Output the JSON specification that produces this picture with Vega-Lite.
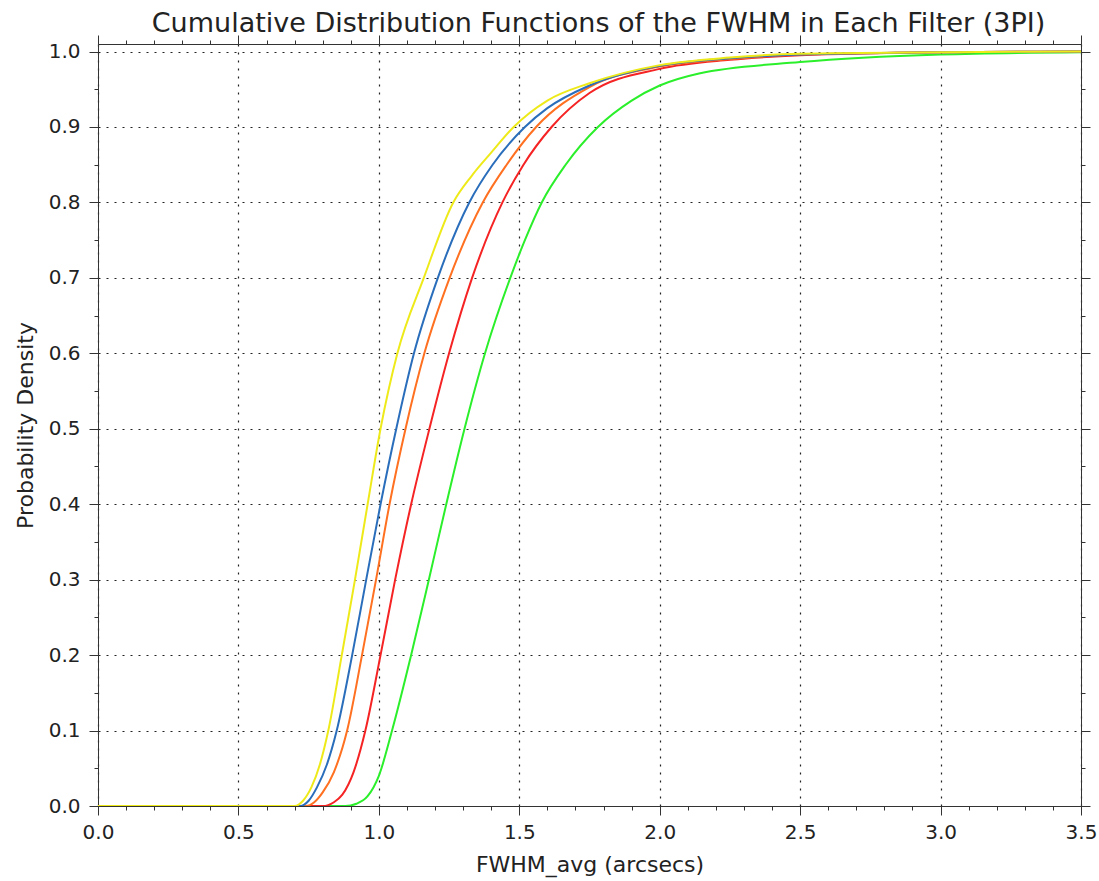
{
  "$schema": "https://vega.github.io/schema/vega-lite/v6.json",
  "width": 983,
  "height": 762,
  "autosize": "none",
  "padding": {"left": 98, "top": 44, "right": 18, "bottom": 75},
  "background": "white",
  "config": {
    "font": "DejaVu Sans",
    "view": {"stroke": null},
    "axis": {"labelFont": "DejaVu Sans", "titleFont": "DejaVu Sans", "labelColor": "#222", "titleColor": "#222", "domainColor": "#333", "tickColor": "#333", "titleFontWeight": "normal"}
  },
  "title": {"text": "Cumulative Distribution Functions of the FWHM in Each Filter (3PI)", "fontSize": 27, "font": "DejaVu Sans", "fontWeight": "normal", "color": "#222", "anchor": "middle", "offset": -3, "dx": 9},
  "data": {"values": [
    {"band":"g","x":0,"p":0},{"band":"g","x":0.88,"p":0},{"band":"g","x":0.92,"p":0.003},{"band":"g","x":0.96,"p":0.013},{"band":"g","x":1.0,"p":0.04},{"band":"g","x":1.047,"p":0.1},{"band":"g","x":1.115,"p":0.2},{"band":"g","x":1.178,"p":0.3},{"band":"g","x":1.24,"p":0.4},{"band":"g","x":1.305,"p":0.5},{"band":"g","x":1.378,"p":0.6},{"band":"g","x":1.468,"p":0.7},{"band":"g","x":1.52,"p":0.75},{"band":"g","x":1.58,"p":0.8},{"band":"g","x":1.665,"p":0.85},{"band":"g","x":1.78,"p":0.9},{"band":"g","x":1.9,"p":0.935},{"band":"g","x":2.0,"p":0.955},{"band":"g","x":2.14,"p":0.971},{"band":"g","x":2.5,"p":0.986},{"band":"g","x":3.0,"p":0.996},{"band":"g","x":3.5,"p":0.999},
    {"band":"r","x":0,"p":0},{"band":"r","x":0.80,"p":0},{"band":"r","x":0.84,"p":0.005},{"band":"r","x":0.87,"p":0.015},{"band":"r","x":0.91,"p":0.045},{"band":"r","x":0.952,"p":0.1},{"band":"r","x":1.006,"p":0.2},{"band":"r","x":1.058,"p":0.3},{"band":"r","x":1.115,"p":0.4},{"band":"r","x":1.18,"p":0.5},{"band":"r","x":1.25,"p":0.6},{"band":"r","x":1.332,"p":0.7},{"band":"r","x":1.44,"p":0.8},{"band":"r","x":1.515,"p":0.85},{"band":"r","x":1.615,"p":0.9},{"band":"r","x":1.75,"p":0.945},{"band":"r","x":2.0,"p":0.977},{"band":"r","x":2.25,"p":0.989},{"band":"r","x":2.5,"p":0.995},{"band":"r","x":3.0,"p":0.999},{"band":"r","x":3.5,"p":1.0},
    {"band":"i","x":0,"p":0},{"band":"i","x":0.74,"p":0},{"band":"i","x":0.77,"p":0.005},{"band":"i","x":0.80,"p":0.018},{"band":"i","x":0.84,"p":0.045},{"band":"i","x":0.887,"p":0.1},{"band":"i","x":0.94,"p":0.2},{"band":"i","x":0.99,"p":0.3},{"band":"i","x":1.038,"p":0.4},{"band":"i","x":1.095,"p":0.5},{"band":"i","x":1.162,"p":0.6},{"band":"i","x":1.252,"p":0.7},{"band":"i","x":1.37,"p":0.8},{"band":"i","x":1.455,"p":0.85},{"band":"i","x":1.56,"p":0.9},{"band":"i","x":1.75,"p":0.953},{"band":"i","x":2.0,"p":0.98},{"band":"i","x":2.25,"p":0.99},{"band":"i","x":2.5,"p":0.996},{"band":"i","x":3.0,"p":0.999},{"band":"i","x":3.5,"p":1.0},
    {"band":"z","x":0,"p":0},{"band":"z","x":0.72,"p":0},{"band":"z","x":0.75,"p":0.007},{"band":"z","x":0.78,"p":0.025},{"band":"z","x":0.815,"p":0.055},{"band":"z","x":0.85,"p":0.1},{"band":"z","x":0.905,"p":0.2},{"band":"z","x":0.955,"p":0.3},{"band":"z","x":1.006,"p":0.4},{"band":"z","x":1.062,"p":0.5},{"band":"z","x":1.125,"p":0.6},{"band":"z","x":1.21,"p":0.7},{"band":"z","x":1.322,"p":0.8},{"band":"z","x":1.405,"p":0.85},{"band":"z","x":1.52,"p":0.9},{"band":"z","x":1.6,"p":0.925},{"band":"z","x":1.75,"p":0.955},{"band":"z","x":2.0,"p":0.981},{"band":"z","x":2.25,"p":0.991},{"band":"z","x":2.5,"p":0.996},{"band":"z","x":3.0,"p":0.999},{"band":"z","x":3.5,"p":1.0},
    {"band":"y","x":0,"p":0},{"band":"y","x":0.70,"p":0},{"band":"y","x":0.73,"p":0.007},{"band":"y","x":0.76,"p":0.025},{"band":"y","x":0.79,"p":0.055},{"band":"y","x":0.82,"p":0.1},{"band":"y","x":0.868,"p":0.2},{"band":"y","x":0.915,"p":0.3},{"band":"y","x":0.96,"p":0.4},{"band":"y","x":1.006,"p":0.5},{"band":"y","x":1.066,"p":0.6},{"band":"y","x":1.16,"p":0.7},{"band":"y","x":1.265,"p":0.8},{"band":"y","x":1.33,"p":0.835},{"band":"y","x":1.4,"p":0.866},{"band":"y","x":1.48,"p":0.9},{"band":"y","x":1.6,"p":0.935},{"band":"y","x":1.75,"p":0.958},{"band":"y","x":2.0,"p":0.982},{"band":"y","x":2.25,"p":0.992},{"band":"y","x":2.5,"p":0.997},{"band":"y","x":3.0,"p":0.999},{"band":"y","x":3.5,"p":1.0}
  ]},
  "layer": [
    {
      "mark": {"type": "line", "strokeWidth": 2, "interpolate": "monotone", "clip": true},
      "encoding": {
        "x": {"field": "x", "type": "quantitative", "scale": {"domain": [0, 3.5], "nice": false, "zero": false},
          "axis": {"orient": "bottom", "title": "FWHM_avg (arcsecs)", "titleFontSize": 22, "labelFontSize": 20, "titlePadding": 12, "labelPadding": 7,
            "values": [0,0.1,0.2,0.3,0.4,0.5,0.6,0.7,0.8,0.9,1.0,1.1,1.2,1.3,1.4,1.5,1.6,1.7,1.8,1.9,2.0,2.1,2.2,2.3,2.4,2.5,2.6,2.7,2.8,2.9,3.0,3.1,3.2,3.3,3.4,3.5],
            "labelExpr": "abs(datum.value*2 - round(datum.value*2)) < 0.001 ? format(datum.value, '.1f') : ''",
            "labelOverlap": false, "labelFlush": false,
            "tickSize": {"condition": {"test": "abs(datum.value*2 - round(datum.value*2)) < 0.001", "value": 9}, "value": 4},
            "grid": true, "gridColor": "#222", "gridDash": [2, 6], "gridWidth": 1.2,
            "gridOpacity": {"condition": {"test": "abs(datum.value*2 - round(datum.value*2)) < 0.001", "value": 1}, "value": 0}}},
        "y": {"field": "p", "type": "quantitative", "scale": {"domain": [0, 1.01], "nice": false, "zero": false},
          "axis": {"orient": "left", "title": "Probability Density", "titleFontSize": 22, "labelFontSize": 20, "titlePadding": 11, "labelPadding": 9,
            "values": [0,0.05,0.1,0.15,0.2,0.25,0.3,0.35,0.4,0.45,0.5,0.55,0.6,0.65,0.7,0.75,0.8,0.85,0.9,0.95,1.0],
            "labelExpr": "abs(datum.value*10 - round(datum.value*10)) < 0.001 ? format(datum.value, '.1f') : ''",
            "labelOverlap": false, "labelFlush": false,
            "tickSize": {"condition": {"test": "abs(datum.value*10 - round(datum.value*10)) < 0.001", "value": 9}, "value": 4},
            "grid": true, "gridColor": "#222", "gridDash": [2, 6], "gridWidth": 1.2,
            "gridOpacity": {"condition": {"test": "abs(datum.value*10 - round(datum.value*10)) < 0.001", "value": 1}, "value": 0}}},
        "color": {"field": "band", "type": "nominal", "legend": null,
          "scale": {"domain": ["g","r","i","z","y"], "range": ["#2aef2a","#f52323","#ff7020","#2a6ebb","#eeea1a"]}}
      }
    },
    {
      "mark": {"type": "line", "strokeOpacity": 0},
      "encoding": {
        "x": {"field": "x", "type": "quantitative",
          "axis": {"orient": "top", "title": null, "labels": false, "grid": false,
            "values": [0,0.1,0.2,0.3,0.4,0.5,0.6,0.7,0.8,0.9,1.0,1.1,1.2,1.3,1.4,1.5,1.6,1.7,1.8,1.9,2.0,2.1,2.2,2.3,2.4,2.5,2.6,2.7,2.8,2.9,3.0,3.1,3.2,3.3,3.4,3.5],
            "tickSize": {"condition": {"test": "abs(datum.value*2 - round(datum.value*2)) < 0.001", "value": 9}, "value": 4}}},
        "y": {"field": "p", "type": "quantitative",
          "axis": {"orient": "right", "title": null, "labels": false, "grid": false,
            "values": [0,0.05,0.1,0.15,0.2,0.25,0.3,0.35,0.4,0.45,0.5,0.55,0.6,0.65,0.7,0.75,0.8,0.85,0.9,0.95,1.0],
            "tickSize": {"condition": {"test": "abs(datum.value*10 - round(datum.value*10)) < 0.001", "value": 9}, "value": 4}}},
        "detail": {"field": "band"}
      }
    }
  ],
  "resolve": {"axis": {"x": "independent", "y": "independent"}}
}
